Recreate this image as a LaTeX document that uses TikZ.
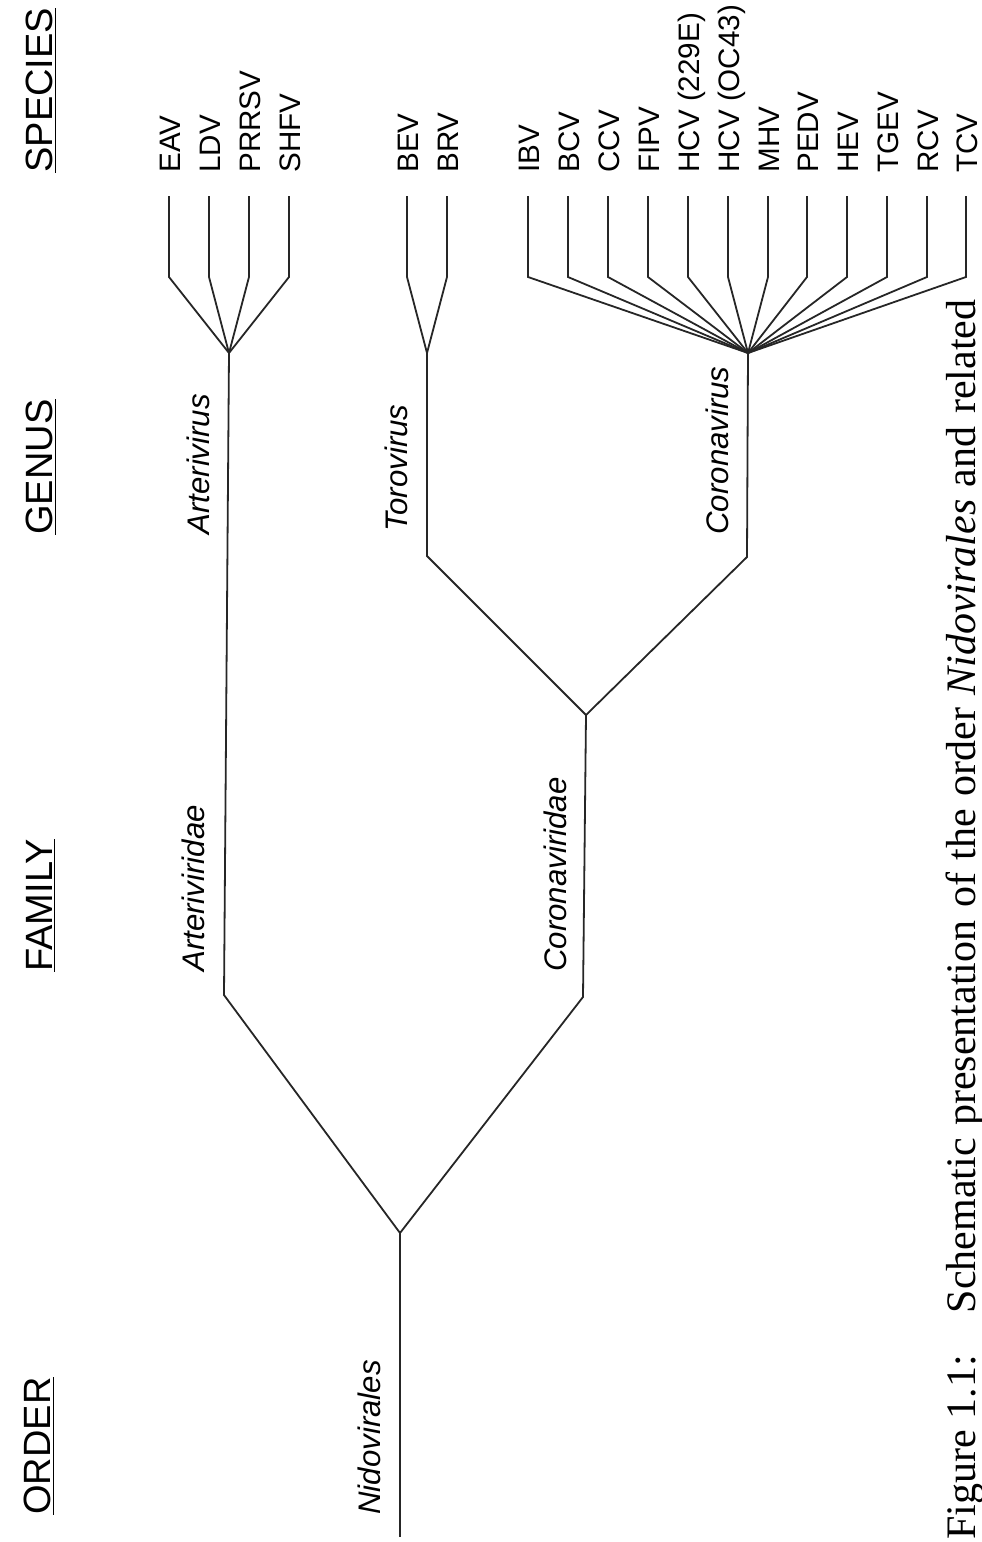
\documentclass[tikz,border=0pt]{standalone}
\usepackage{fontspec}
\setmainfont{Liberation Sans}
\newfontfamily\capfont{Liberation Serif}
\usepackage{tikz}
\usetikzlibrary{positioning}

\begin{document}
\begin{tikzpicture}[
    x=0.5pt, y=-0.5pt,
    branch/.style={line width=0.9pt, color=black!85},
    species/.style={rotate=90, anchor=base west, inner sep=0pt, font=\fontsize{14.8}{17}\selectfont},
    taxon/.style={rotate=90, anchor=base west, inner sep=0pt, font=\fontsize{15.6}{18}\selectfont\itshape},
    rank/.style={rotate=90, anchor=base west, inner sep=0pt, font=\fontsize{19}{22}\selectfont},
    caption/.style={rotate=90, anchor=base west, inner sep=0pt, font=\fontsize{21}{24}\selectfont\capfont},
]
    \useasboundingbox (0,0) rectangle (981,1542);

    % Rank headings
    \node[rank] (hspecies) at (52,173) {\underline{SPECIES}};
    \node[rank] (hgenus) at (52,535) {\underline{GENUS}};
    \node[rank] (hfamily) at (52,972) {\underline{FAMILY}};
    \node[rank] (horder) at (50,1515) {\underline{ORDER}};

    % Branch points
    \coordinate (arteri) at (229,353);
    \coordinate (toro) at (427,353);
    \coordinate (coronav) at (748,353);
    \coordinate (toro-bend) at (427,556);
    \coordinate (coronav-bend) at (747,557);
    \coordinate (coronidae) at (586,715);
    \coordinate (coronidae-bend) at (583,997);
    \coordinate (arteridae) at (224,995);
    \coordinate (nido) at (400,1233);
    \coordinate (nido-end) at (400,1537);

    % Species
    \foreach \lab/\x/\gen [count=\i] in {EAV/169/arteri, LDV/209/arteri, PRRSV/249/arteri, SHFV/289/arteri,
        BEV/407/toro, BRV/447/toro,
        IBV/528/coronav, BCV/568/coronav, CCV/608/coronav, FIPV/648/coronav,
        {HCV (229E)}/688/coronav, {HCV (OC43)}/728/coronav, MHV/768/coronav, PEDV/807/coronav,
        HEV/847/coronav, TGEV/887/coronav, RCV/927/coronav, TCV/966/coronav} {
        \node[species] (sp\i) at (\x+11,173) {\lab};
        \coordinate (top\i) at (\x,196);
        \coordinate (bend\i) at (\x,277);
        \draw[branch] (top\i) -- (bend\i) -- (\gen);
    }

    % Genera, families, order
    \draw[branch] (arteri) -- (arteridae) -- (nido);
    \draw[branch] (toro) -- (toro-bend) -- (coronidae);
    \draw[branch] (coronav) -- (coronav-bend) -- (coronidae);
    \draw[branch] (coronidae) -- (coronidae-bend) -- (nido);
    \draw[branch] (nido) -- (nido-end);

    % Taxon names
    \node[taxon] (larteri) at (209,535) {Arterivirus};
    \node[taxon] (ltoro) at (407,532) {Torovirus};
    \node[taxon] (lcoronav) at (728,535) {Coronavirus};
    \node[taxon] (larteridae) at (204,972) {Arteriviridae};
    \node[taxon] (lcoronidae) at (566,972) {Coronaviridae};
    \node[taxon] (lnido) at (380,1515) {Nidovirales};

    % Caption
    \node[caption] (cap) at (975,1540) {\makebox[620pt][s]{\mbox{Figure 1.1:}\quad Schematic presentation of the order \textit{Nidovirales} and related}};
\end{tikzpicture}
\end{document}
